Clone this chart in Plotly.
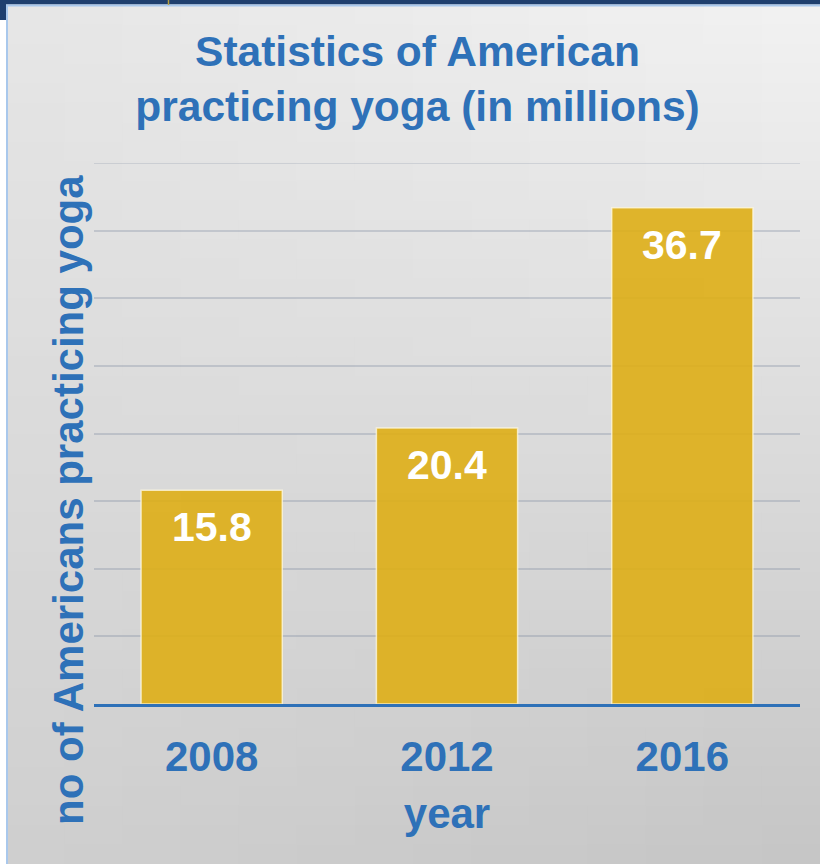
import plotly.graph_objects as go

# ---- data ----
years = ["2008", "2012", "2016"]
practitioners = [15.8, 20.4, 36.7]
value_labels = ["15.8", "20.4", "36.7"]

W, H = 820, 864
ML, MR, MT, MB = 94, 20, 163, 160
PW, PH = W - ML - MR, H - MT - MB

def px(x):
    return (x - ML) / PW

def py(y):
    return (H - MB - y) / PH

BLUE = "#2E71B8"
FONT = "Liberation Sans, Arial"
GRID = "rgba(120,132,155,0.30)"
shapes = []

# gradient background panel
cols, rows = 14, 44
x0p, y0p = 6, 5
for i in range(cols):
    for j in range(rows):
        u = (i + 0.5) / cols
        v = (j + 0.5) / rows
        ct = 236 + 12 * (u - 0.5)
        cb = 202 - 10 * (u - 0.5)
        c = int(round(ct + (cb - ct) * v))
        xa = x0p + (W - x0p) * i / cols
        xb = x0p + (W - x0p) * (i + 1) / cols + 1
        ya = y0p + (H - y0p) * j / rows
        yb = y0p + (H - y0p) * (j + 1) / rows + 1
        shapes.append(dict(type="rect", xref="paper", yref="paper",
                           x0=px(xa), x1=px(xb), y0=py(yb), y1=py(ya),
                           fillcolor=f"rgb({c},{c},{c})", line=dict(width=0),
                           layer="below"))

# frame details
shapes += [
    dict(type="rect", xref="paper", yref="paper", x0=px(0), x1=px(W), y0=py(4.5), y1=py(0),
         fillcolor="#1F3F6E", line=dict(width=0), layer="below"),
    dict(type="rect", xref="paper", yref="paper", x0=px(0), x1=px(6), y0=py(20), y1=py(0),
         fillcolor="#1F3F6E", line=dict(width=0), layer="below"),
    dict(type="line", xref="paper", yref="paper", x0=px(6), x1=px(W), y0=py(5.5), y1=py(5.5),
         line=dict(color="#A9C8EC", width=2), layer="below"),
    dict(type="line", xref="paper", yref="paper", x0=px(7), x1=px(7), y0=py(H), y1=py(5),
         line=dict(color="#A9C8EC", width=2), layer="below"),
    dict(type="line", xref="paper", yref="paper", x0=px(168.5), x1=px(168.5), y0=py(5), y1=py(0),
         line=dict(color="#B8A040", width=1.5), layer="below"),
    # top gridline at the range edge (y = 40)
    dict(type="line", xref="paper", yref="y", x0=0, x1=1, y0=40, y1=40,
         line=dict(color=GRID, width=1.5), layer="below"),
]

fig = go.Figure()
fig.add_trace(go.Bar(
    x=years, y=practitioners, width=0.6,
    marker=dict(color="rgba(222,174,22,0.9)",
                line=dict(color="rgba(255,250,225,0.75)", width=1.5)),
    hoverinfo="skip",
))

annotations = []
for idx, (v, lab) in enumerate(zip(practitioners, value_labels)):
    annotations.append(dict(x=idx, y=v, xref="x", yref="y", text=lab, showarrow=False,
                            yanchor="top", yshift=-12,
                            font=dict(family=FONT, size=41, color="white", weight="bold")))

annotations.append(dict(x=px(68), y=py(500), xref="paper", yref="paper",
                        text="no of Americans practicing yoga", textangle=-90, showarrow=False,
                        xanchor="center", yanchor="middle",
                        font=dict(family=FONT, size=42, color=BLUE, weight="bold")))

fig.update_layout(
    width=W, height=H,
    margin=dict(l=ML, r=MR, t=MT, b=MB, pad=0),
    paper_bgcolor="white",
    plot_bgcolor="rgba(0,0,0,0)",
    showlegend=False,
    shapes=shapes,
    annotations=annotations,
    title=dict(text="Statistics of American<br>practicing yoga (in millions)",
               x=417.5 / W, xanchor="center", xref="container",
               y=1 - 66 / H, yanchor="top", yref="container",
               font=dict(family=FONT, size=42.5, color=BLUE, weight="bold")),
)
fig.update_xaxes(
    type="category", range=[-0.5, 2.5], showgrid=False, zeroline=False,
    showline=True, linecolor=BLUE, linewidth=3,
    ticks="outside", ticklen=14, tickcolor="rgba(0,0,0,0)",
    tickfont=dict(family=FONT, size=42, color=BLUE, weight="bold"),
    title=dict(text="year", standoff=20,
               font=dict(family=FONT, size=42, color=BLUE, weight="bold")),
)
fig.update_yaxes(
    range=[0, 40], dtick=5, showgrid=True, gridcolor=GRID, gridwidth=1.5,
    zeroline=False, showticklabels=False, showline=False,
)

fig.write_html("out.html")
